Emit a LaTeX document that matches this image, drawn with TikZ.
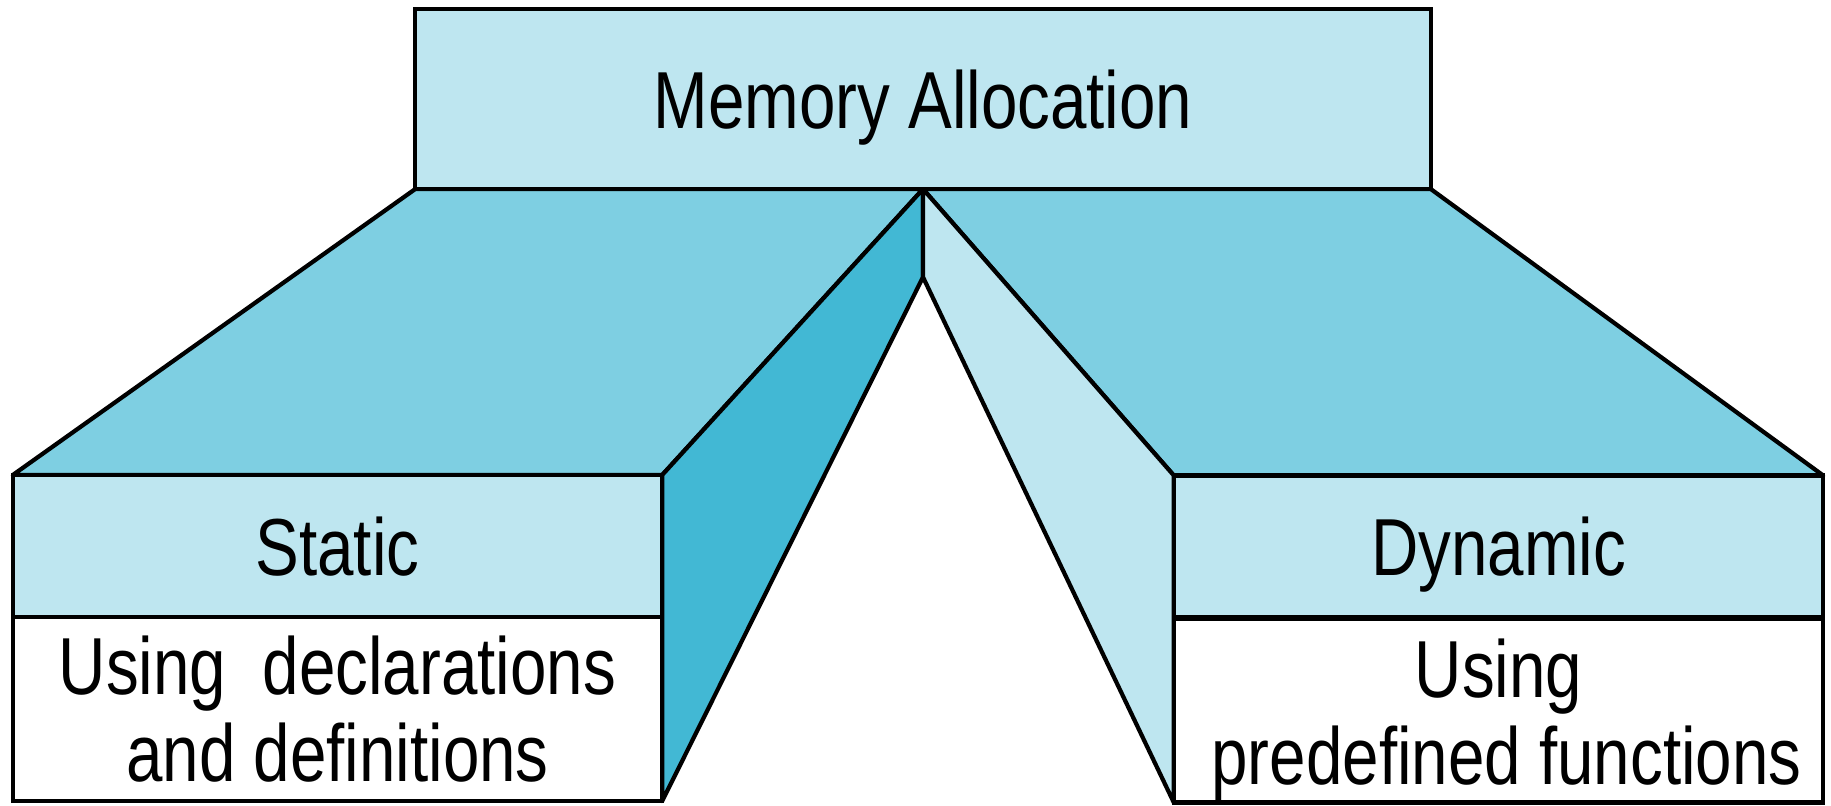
\documentclass[tikz,border=0pt]{standalone}
\usepackage{fontspec}
\setmainfont{Liberation Sans}[FakeStretch=0.81]
\usetikzlibrary{backgrounds}
\definecolor{palecyan}{RGB}{190,230,240}
\definecolor{midcyan}{RGB}{126,207,226}
\definecolor{deepcyan}{RGB}{66,184,212}

\begin{document}
\begin{tikzpicture}[x=0.01cm, y=-0.01cm, line width=1.2pt,
		labelbox/.style={draw, fill=palecyan, inner sep=0pt, outer sep=0pt, font=\fontsize{23}{24.75}\selectfont},
		headbox/.style={labelbox, minimum width=6.49cm, minimum height=1.42cm, text height=0.58cm, text depth=0cm},
		notebox/.style={labelbox, fill=white, minimum width=6.49cm, minimum height=1.84cm, align=center},
		face/.style={draw, line width=1.2pt, line join=round}]
	\useasboundingbox (0, 0) rectangle (1831, 805);
	% top box
	\node[labelbox, minimum width=10.15cm, minimum height=1.8cm, text height=0.58cm, text depth=0cm] (alloc) at (923, 99) {Memory Allocation};
	% the two legs
	\node[headbox] (static) at (337.5, 546) {Static};
	\node[notebox] (staticuse) at (337.5, 709) {Using\ \ declarations\\and definitions};
	\node[headbox] (dynamic) at (1498.5, 546.5) {Dynamic};
	\node[notebox] (dynamicuse) at (1498.5, 710.5) {\rule{0pt}{0.78cm}Using\\\hspace{0.16cm}predefined functions};
	\coordinate (notch) at ([yshift=-0.88cm]alloc.south);
	% faces behind the boxes
	\begin{scope}[on background layer]
		\draw[face, fill=midcyan] (alloc.south west) -- (alloc.south) -- (static.north east) -- (static.north west) -- cycle;
		\draw[face, fill=deepcyan] (alloc.south) -- (notch) -- (staticuse.south east) -- (static.north east) -- cycle;
		\draw[face, fill=midcyan] (alloc.south) -- (alloc.south east) -- (dynamic.north east) -- (dynamic.north west) -- cycle;
		\draw[face, fill=palecyan] (alloc.south) -- (notch) -- (dynamicuse.south west) -- (dynamic.north west) -- cycle;
	\end{scope}
\end{tikzpicture}
\end{document}
